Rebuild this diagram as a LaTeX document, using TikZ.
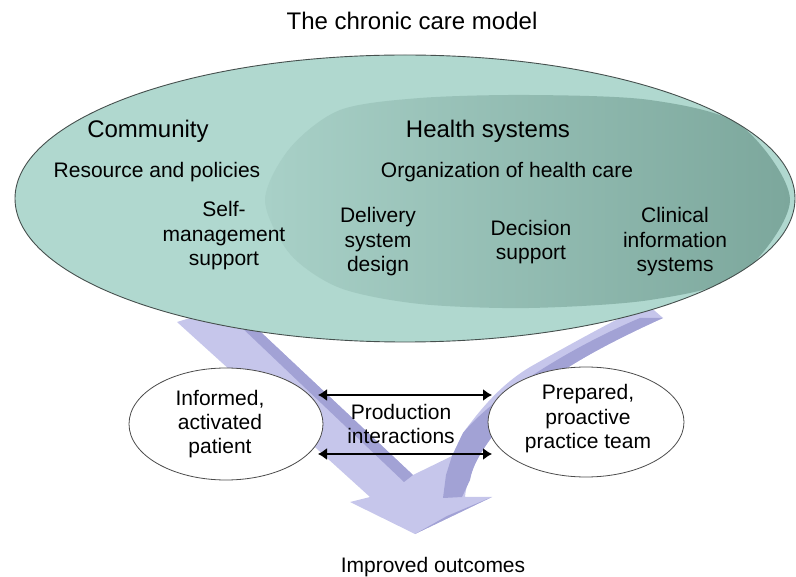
\documentclass[tikz,border=0pt]{standalone}
\usepackage{fontspec}
\setmainfont{Liberation Sans}
\usetikzlibrary{arrows.meta,shapes.geometric}
\definecolor{tealA}{RGB}{176,216,207}
\definecolor{tealL}{RGB}{168,208,199}
\definecolor{tealR}{RGB}{124,167,156}
\definecolor{lavL}{RGB}{198,198,235}
\definecolor{lavD}{RGB}{162,162,213}
\definecolor{edgeG}{RGB}{70,80,78}
\tikzset{
  txt/.style={font=\fontsize{21}{24.5}\selectfont, align=center, inner sep=0pt, anchor=base},
  head/.style={font=\fontsize{24}{28}\selectfont, inner sep=0pt, anchor=base},
  smallell/.style={ellipse, draw=black!70, line width=0.8pt, fill=white, inner sep=0pt},
  biarrow/.style={{Latex[length=9pt,width=12pt]}-{Latex[length=9pt,width=12pt]}, line width=1.4pt}
}
\begin{document}
\begin{tikzpicture}[x=1pt,y=-1pt]
\useasboundingbox (0,0) rectangle (796,577);
% big V arrow
\fill[lavL] (177,322) -- (232,305) -- (413,475) -- (452,456)
  .. controls (458,445) .. (463,433)
  .. controls (480,410) and (500,385) .. (530,367)
  .. controls (560,350) and (600,328) .. (620,318)
  -- (640,298) -- (663,318)
  .. controls (610,342) and (545,375) .. (512,412)
  .. controls (490,438) and (468,465) .. (465,497)
  -- (492,497) -- (415,534) -- (350,502) -- (370,497) -- cycle;
\fill[lavD] (218,305) -- (232,305) -- (413,475) -- (404,482) -- cycle;
\fill[lavD] (663,318)
  .. controls (610,342) and (545,375) .. (512,412)
  .. controls (492,436) and (474,458) .. (470,480)
  -- (462,497) -- (443,498) -- (446,475) -- (452,456)
  .. controls (458,445) .. (463,433)
  .. controls (490,400) and (560,352) .. (640,318) -- cycle;
\fill[lavD] (415,534) -- (492,497) -- (447,516) -- cycle;
% main ellipse
\fill[tealA] (405,198.5) ellipse [x radius=390, y radius=143.5];
\begin{scope}
  \clip (405,198.5) ellipse [x radius=390, y radius=143.5];
  \shade[left color=tealL, right color=tealR] plot[smooth cycle] coordinates {
    (265,200) (290,148) (340,110) (420,98) (529,95) (650,100) (740,125) (790,200)
    (740,275) (650,300) (529,308) (420,304) (340,288) (290,254)};
\end{scope}
\draw[edgeG, line width=0.9pt] (405,198.5) ellipse [x radius=390, y radius=143.5];
% title
\node[head] (title) at (412,30) {The chronic care model};
% texts in ellipse
\node[head] (comm) at (148,138) {Community};
\node[head] (hsys) at (488,138) {Health systems};
\node[txt] (res) at (157,178) {Resource and policies};
\node[txt] (org) at (507,178) {Organization of health care};
\node[txt] (self) at (224,266) {Self-\\management\\support};
\node[txt] (deliv) at (378,272) {Delivery\\system\\design};
\node[txt] (dec) at (531,260) {Decision\\support};
\node[txt] (clin) at (675,272) {Clinical\\information\\systems};
% small ellipses
\node[smallell, minimum width=194pt, minimum height=112pt] (pat) at (226,424) {};
\node[smallell, minimum width=196pt, minimum height=110pt] (pteam) at (586,422) {};
\node[txt] (patt) at (220,454) {Informed,\\activated\\patient};
\node[txt] (team) at (588,448.5) {Prepared,\\proactive\\practice team};
% production interactions
\coordinate (l1) at (318,395);
\coordinate (r1) at (492,395);
\coordinate (l2) at (318,454);
\coordinate (r2) at (492,454);
\draw[biarrow] (l1) -- (r1);
\draw[biarrow] (l2) -- (r2);
\node[txt] (prod) at (401,443.5) {Production\\interactions};
\node[txt] (out) at (433,572) {Improved outcomes};
\end{tikzpicture}
\end{document}
